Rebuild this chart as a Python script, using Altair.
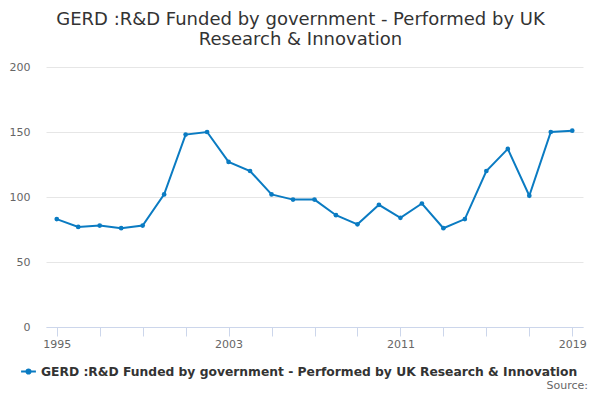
import altair as alt
import pandas as pd

years = list(range(1995, 2020))
values = [83, 77, 78, 76, 78, 102, 148, 150, 127, 120, 102, 98, 98, 86, 79, 94, 84, 95, 76, 83, 120, 137, 101, 150, 151]
series_name = "GERD :R&D Funded by government - Performed by UK Research & Innovation"
title_lines = ["GERD :R&D Funded by government - Performed by UK", "Research & Innovation"]
source_text = ["Source:"]
x_ticks = list(range(1995, 2020, 2))
y_ticks = [0, 50, 100, 150, 200]

df = pd.DataFrame({"year": years, "value": values, "series": series_name})
src_df = pd.DataFrame({"t": source_text})

FONT = "DejaVu Sans"
LINE = "#0a7bc2"

sym = "M-1,0H1M-0.28,0A0.28,0.28,0,1,1,0.28,0A0.28,0.28,0,1,1,-0.28,0Z"

line = alt.Chart(df).mark_line(
    strokeWidth=2,
    point=alt.OverlayMarkDef(filled=True, size=22, color=LINE),
).encode(
    x=alt.X(
        "year:Q",
        scale=alt.Scale(domain=[1994.5, 2019.5], nice=False, zero=False),
        axis=alt.Axis(
            title=None,
            values=x_ticks,
            format="d",
            labelExpr="(datum.value - 1995) % 8 == 0 ? datum.label : ''",
            grid=False,
            domainColor="#ccd6eb",
            tickColor="#ccd6eb",
            tickSize=9,
            labelPadding=2,
            labelColor="#666666",
            labelFontSize=11,
            labelFont=FONT,
            labelFlush=False,
        ),
    ),
    y=alt.Y(
        "value:Q",
        scale=alt.Scale(domain=[0, 200], nice=False),
        axis=alt.Axis(
            title=None,
            values=y_ticks,
            domain=False,
            ticks=False,
            gridColor="#e6e6e6",
            labelPadding=16,
            labelColor="#666666",
            labelFontSize=11,
            labelFont=FONT,
        ),
    ),
    color=alt.Color(
        "series:N",
        scale=alt.Scale(range=[LINE]),
        legend=alt.Legend(
            title=None,
            orient="none",
            legendX=-26,
            legendY=296,
            symbolType=sym,
            symbolSize=220,
            symbolStrokeWidth=2,
            labelFont=FONT,
            labelFontSize=12.3,
            labelFontWeight="bold",
            labelColor="#333333",
            labelLimit=800,
        ),
    ),
)

source = alt.Chart(src_df).mark_text(
    align="right", baseline="alphabetic", font=FONT, fontSize=11, color="#666666"
).encode(
    x=alt.value(542),
    y=alt.value(322),
    text="t:N",
)

chart = alt.layer(line, source).properties(
    width=537,
    height=260,
    autosize=alt.AutoSizeParams(type="none"),
    padding={"left": 38, "top": 59, "right": 9, "bottom": 65},
    title=alt.TitleParams(
        text=title_lines,
        font=FONT,
        fontSize=18,
        fontWeight="normal",
        color="#333333",
        anchor="middle",
        dx=-14,
        offset=12,
        lineHeight=20,
    ),
).configure_view(stroke=None)

chart.save("out.html", embed_options={"renderer": "svg", "actions": False})
